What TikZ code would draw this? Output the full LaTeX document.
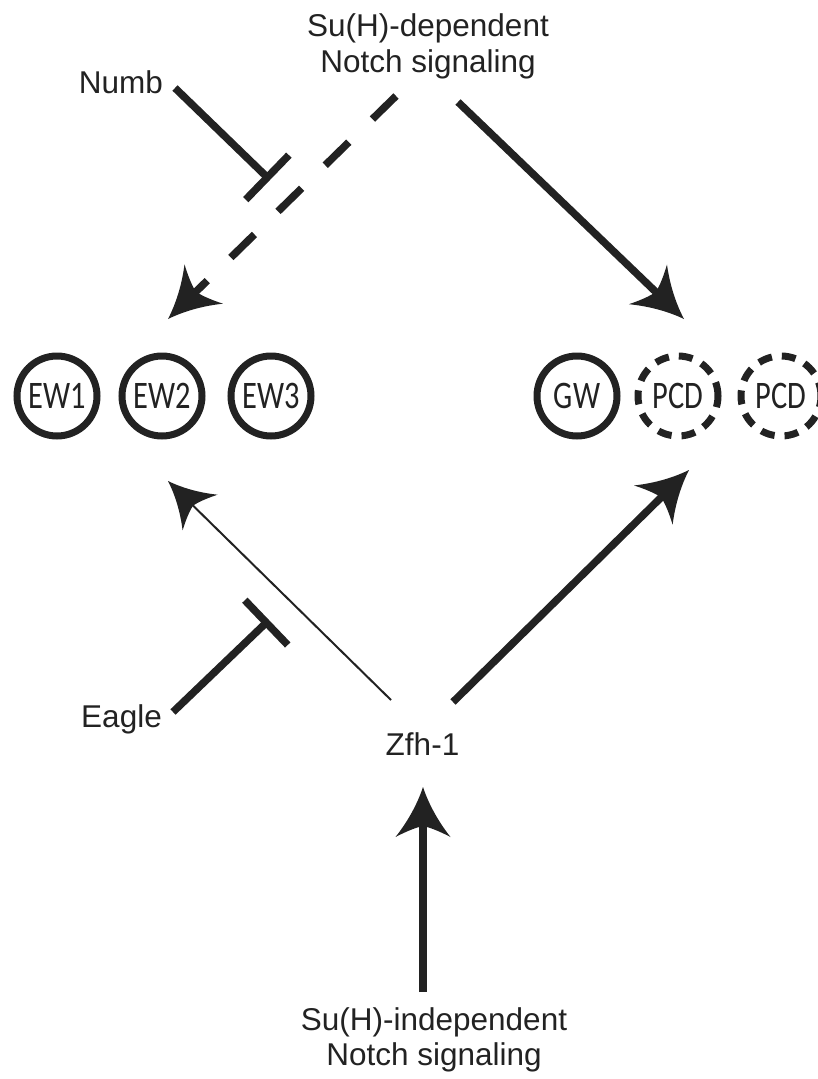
\documentclass[tikz,border=0pt]{standalone}
\usepackage{fontspec}
\setmainfont{Liberation Sans}
\newfontfamily\circfont[FakeStretch=0.78]{Carlito}
\usetikzlibrary{arrows.meta}
\definecolor{ink}{HTML}{222222}
\pgfdeclarearrow{
  name = Curvy,
  parameters = {\the\pgfarrowlength,\the\pgfarrowwidth},
  setup code = {
    \pgfarrowssettipend{0pt}
    \pgfarrowssetbackend{-\pgfarrowlength}
    \pgfarrowssetlineend{-0.7\pgfarrowlength}
    \pgfarrowssavethe\pgfarrowlength
    \pgfarrowssavethe\pgfarrowwidth
  },
  drawing code = {
    \pgfpathmoveto{\pgfpoint{0pt}{0pt}}
    \pgfpathcurveto{\pgfpoint{-0.4\pgfarrowlength}{0.12\pgfarrowwidth}}
                   {\pgfpoint{-0.75\pgfarrowlength}{0.32\pgfarrowwidth}}
                   {\pgfpoint{-\pgfarrowlength}{0.5\pgfarrowwidth}}
    \pgfpathcurveto{\pgfpoint{-0.84\pgfarrowlength}{0.22\pgfarrowwidth}}
                   {\pgfpoint{-0.8\pgfarrowlength}{0.08\pgfarrowwidth}}
                   {\pgfpoint{-0.78\pgfarrowlength}{0pt}}
    \pgfpathcurveto{\pgfpoint{-0.8\pgfarrowlength}{-0.08\pgfarrowwidth}}
                   {\pgfpoint{-0.84\pgfarrowlength}{-0.22\pgfarrowwidth}}
                   {\pgfpoint{-\pgfarrowlength}{-0.5\pgfarrowwidth}}
    \pgfpathcurveto{\pgfpoint{-0.75\pgfarrowlength}{-0.32\pgfarrowwidth}}
                   {\pgfpoint{-0.4\pgfarrowlength}{-0.12\pgfarrowwidth}}
                   {\pgfpoint{0pt}{0pt}}
    \pgfpathclose
    \pgfusepathqfill
  },
  defaults = {length=50pt, width=55pt}
}
\begin{document}
\begin{tikzpicture}[x=1pt,y=-1pt,
  lbl/.style={font=\fontsize{31.5}{36}\selectfont, inner sep=0pt, text=ink},
  cell/.style={circle, draw=ink, line width=7pt, minimum size=80pt, inner sep=0pt,
    text=ink, font=\circfont\fontsize{39}{42}\selectfont},
  pcd/.style={cell, dash pattern=on 14pt off 10pt},
  bigtip/.style={-{Curvy[length=50pt,width=55pt]}},
  thicklink/.style={draw=ink, line width=7.5pt, bigtip},
  dashlink/.style={draw=ink, line width=7.5pt, dash pattern=on 33pt off 33pt, bigtip},
  thinlink/.style={draw=ink, line width=2pt, -{Curvy[length=45pt,width=50pt]}},
  inhibit/.style={draw=ink, line width=7.5pt, -{Bar[width=62pt]}}
]
\useasboundingbox (0,0) rectangle (817,1079);

% texts
\node[lbl, anchor=base] (topA) at (428,36) {Su(H)-dependent};
\node[lbl, anchor=base] (topB) at (428,72) {Notch signaling};
\node[lbl, anchor=base east] (numb) at (163,93) {Numb};
\node[lbl, anchor=base east] (eagle) at (162,727) {Eagle};
\node[lbl, anchor=base] (zfh) at (422.5,755) {Zfh-1};
\node[lbl, anchor=base] (botA) at (434,1030) {Su(H)-independent};
\node[lbl, anchor=base] (botB) at (434,1065) {Notch signaling};

% cells
\node[cell] (ew1) at (57,396) {EW1};
\node[cell] (ew2) at (162,396) {EW2};
\node[cell] (ew3) at (271,396) {EW3};
\node[cell] (gw) at (577,396) {GW};
\node[pcd] (pcd1) at (678,396) {PCD};
\node[pcd] (pcd2) at (781,396) {PCD};

% connector end points
\coordinate (numbS) at (175,88);   \coordinate (numbE) at (270,180);
\coordinate (dashS) at (396,96);   \coordinate (dashE) at (168,319);
\coordinate (rS) at (458,102);     \coordinate (rE) at (684,319);
\coordinate (thinS) at (391,700);  \coordinate (thinE) at (168,481);
\coordinate (eagS) at (173,712);   \coordinate (eagE) at (269,620);
\coordinate (zrS) at (453,702);    \coordinate (zrE) at (689,470);
\coordinate (upS) at (423,992);    \coordinate (upE) at (423,787);

% connectors
\draw[dashlink] (dashS) -- (dashE);
\draw[thicklink] (rS) -- (rE);
\draw[inhibit] (numbS) -- (numbE);
\draw[thinlink] (thinS) -- (thinE);
\draw[inhibit] (eagS) -- (eagE);
\draw[thicklink] (zrS) -- (zrE);
\draw[thicklink] (upS) -- (upE);
\end{tikzpicture}
\end{document}
